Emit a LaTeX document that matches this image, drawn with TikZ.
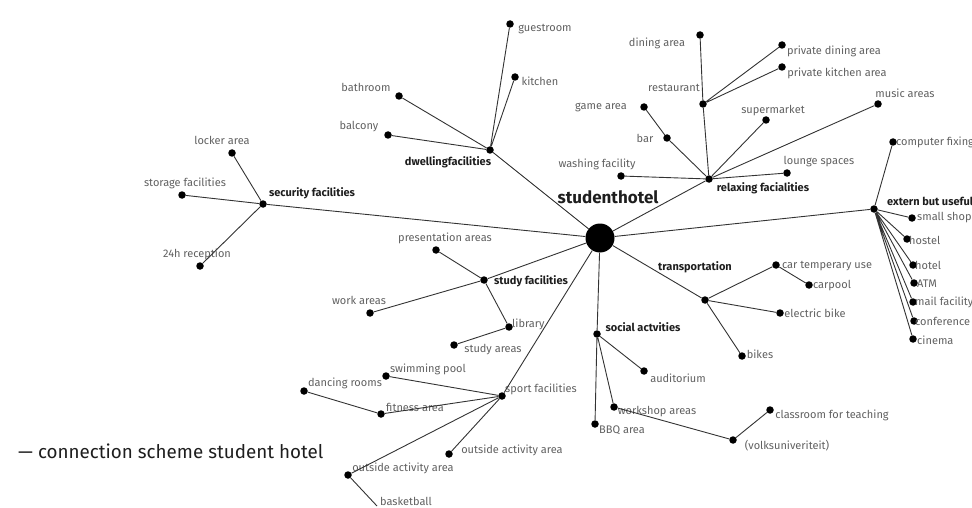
\documentclass[tikz,border=0pt]{standalone}
\usepackage{fontspec}
\setmainfont{Fira Sans}
\definecolor{linec}{HTML}{333333}
\definecolor{leafc}{HTML}{606060}
\definecolor{catc}{HTML}{1E1E1E}
\begin{document}
\begin{tikzpicture}[x=1pt,y=-1pt,
  dot/.style={circle,fill=black,inner sep=0pt,minimum size=7.5pt},
  hubdot/.style={circle,fill=black,inner sep=0pt,minimum size=29pt},
  leaf/.style={text=leafc,font=\fontsize{11}{13}\selectfont,inner sep=0pt},
  cat/.style={text=catc,font=\fontsize{11}{13}\selectfont\bfseries,inner sep=0pt},
  title/.style={text=catc,font=\fontsize{17}{20}\selectfont\bfseries,inner sep=0pt},
  link/.style={draw=linec,line width=0.9pt}]
\useasboundingbox (0,0) rectangle (972,508);

% ---------- hub ----------
\node[hubdot] (hub) at (600,238) {};
\node[title] (t-hub) at (608,197) {studenthotel};

% ---------- category nodes ----------
\node[dot] (sec)   at (263,204) {};
\node[dot] (dwell) at (490,150) {};
\node[dot] (relax) at (709,179) {};
\node[dot] (study) at (484,280) {};
\node[dot] (sport) at (502,396) {};
\node[dot] (soc)   at (597,334) {};
\node[dot] (trans) at (705,300) {};
\node[dot] (ext)   at (874,209) {};

\node[cat] (t-sec)   at (312,193) {security facilities};
\node[cat] (t-dwell) at (448,162) {dwellingfacilities};
\node[cat] (t-relax) at (763,188) {relaxing facialities};
\node[cat] (t-study) at (531,281) {study facilities};
\node[leaf] (t-sport) at (541,389) {sport facilities};
\node[cat] (t-soc)   at (643,327) {social actvities};
\node[cat] (t-trans) at (695,267) {transportation};
\node[cat,anchor=west] (t-ext) at (887,201) {extern but useful};

% ---------- security ----------
\node[dot] (locker)  at (232,153) {};
\node[dot] (storage) at (182,195) {};
\node[dot] (recep)   at (200,266) {};
\node[leaf] at (222,140) {locker area};
\node[leaf] at (185,183) {storage facilities};
\node[leaf] at (197,254) {24h reception};

% ---------- dwelling ----------
\node[dot] (guest) at (510,24) {};
\node[dot] (kitch) at (515,77) {};
\node[dot] (bath)  at (399,96) {};
\node[dot] (balc)  at (388,135) {};
\node[leaf] at (545,29) {guestroom};
\node[leaf] at (540,81) {kitchen};
\node[leaf] at (366,87) {bathroom};
\node[leaf] at (359,127) {balcony};

% ---------- relaxing ----------
\node[dot] (rest)   at (703,104) {};
\node[dot] (dining) at (700,35) {};
\node[dot] (pdin)   at (782,45) {};
\node[dot] (pkit)   at (782,67) {};
\node[dot] (bar)    at (667,138) {};
\node[dot] (game)   at (644,107) {};
\node[dot] (super)  at (766,120) {};
\node[dot] (music)  at (878,104) {};
\node[dot] (lounge) at (787,173) {};
\node[dot] (wash)   at (621,176) {};
\node[leaf] at (674,88) {restaurant};
\node[leaf] at (657,43) {dining area};
\node[leaf] at (834,51) {private dining area};
\node[leaf] at (837,73) {private kitchen area};
\node[leaf] at (645,138) {bar};
\node[leaf] at (601,107) {game area};
\node[leaf] at (773,111) {supermarket};
\node[leaf] at (905,93) {music areas};
\node[leaf] at (819,162) {lounge spaces};
\node[leaf] at (597,164) {washing facility};

% ---------- study ----------
\node[dot] (pres)  at (436,250) {};
\node[dot] (work)  at (370,313) {};
\node[dot] (lib)   at (509,327) {};
\node[dot] (sarea) at (454,345) {};
\node[leaf] at (445,238) {presentation areas};
\node[leaf] at (359,300) {work areas};
\node[leaf,anchor=west] at (512,324) {library};
\node[leaf] at (493,350) {study areas};

% ---------- sport ----------
\node[dot] (swim)  at (386,376) {};
\node[dot] (fit)   at (381,414) {};
\node[dot] (dance) at (304,391) {};
\node[dot] (out1)  at (449,454) {};
\node[dot] (out2)  at (348,475) {};
\coordinate (bask) at (377,506);
\node[leaf] at (428,369) {swimming pool};
\node[leaf] at (415,407) {fitness area};
\node[leaf] at (345,383) {dancing rooms};
\node[leaf] at (512,450) {outside activity area};
\node[leaf] at (403,468) {outside activity area};
\node[leaf] at (406,501) {basketball};

% ---------- social ----------
\node[dot] (audi)  at (644,371) {};
\node[dot] (wshop) at (614,407) {};
\node[dot] (bbq)   at (595,424) {};
\node[dot] (volks) at (733,440) {};
\node[dot] (class) at (770,410) {};
\node[leaf] at (678,378) {auditorium};
\node[leaf] at (657,412) {workshop areas};
\node[leaf] at (622,430) {BBQ area};
\node[leaf] at (787,446) {(volksuniveriteit)};
\node[leaf] at (832,415) {classroom for teaching};

% ---------- transportation ----------
\node[dot] (car)   at (776,265) {};
\node[dot] (pool)  at (809,285) {};
\node[dot] (ebike) at (780,313) {};
\node[dot] (bikes) at (742,356) {};
\node[leaf] at (827,266) {car temperary use};
\node[leaf] at (832,286) {carpool};
\node[leaf] at (815,313) {electric bike};
\node[leaf] at (760,354) {bikes};

% ---------- extern but useful ----------
\node[dot] (comp)  at (893,142) {};
\node[dot] (shop)  at (912,218) {};
\node[dot] (host)  at (907,239) {};
\node[dot] (hotel) at (913,265) {};
\node[dot] (atm)   at (914,283) {};
\node[dot] (mail)  at (913,302) {};
\node[dot] (conf)  at (914,321) {};
\node[dot] (cin)   at (913,339) {};
\node[leaf,anchor=west] at (896,142) {computer fixing};
\node[leaf,anchor=west] at (917,218) {small shop};
\node[leaf,anchor=west] at (909,240) {hostel};
\node[leaf,anchor=west] at (915,265) {hotel};
\node[leaf,anchor=west] at (917,284) {ATM};
\node[leaf,anchor=west] at (915,302) {mail facility};
\node[leaf,anchor=west] at (915,321) {conference};
\node[leaf,anchor=west] at (917,340) {cinema};

% ---------- connectors ----------
\path[link] (hub) -- (sec)  (hub) -- (dwell)  (hub) -- (relax)  (hub) -- (study)
  (hub) -- (sport)  (hub) -- (soc)  (hub) -- (trans)  (hub) -- (ext);
\path[link] (sec) -- (locker)  (sec) -- (storage)  (sec) -- (recep);
\path[link] (dwell) -- (guest)  (dwell) -- (kitch)  (dwell) -- (bath)  (dwell) -- (balc);
\path[link] (relax) -- (rest)  (rest) -- (dining)  (rest) -- (pdin)  (rest) -- (pkit)
  (relax) -- (bar)  (bar) -- (game)  (relax) -- (super)  (relax) -- (music)
  (relax) -- (lounge)  (relax) -- (wash);
\path[link] (study) -- (pres)  (study) -- (work)  (study) -- (lib)  (lib) -- (sarea);
\path[link] (sport) -- (swim)  (sport) -- (fit)  (fit) -- (dance)  (sport) -- (out1)
  (sport) -- (out2)  (out2) -- (bask);
\path[link] (soc) -- (audi)  (soc) -- (wshop)  (soc) -- (bbq)  (wshop) -- (volks)
  (volks) -- (class);
\path[link] (trans) -- (car)  (car) -- (pool)  (trans) -- (ebike)  (trans) -- (bikes);
\path[link] (ext) -- (comp)  (ext) -- (shop)  (ext) -- (host)  (ext) -- (hotel)
  (ext) -- (atm)  (ext) -- (mail)  (ext) -- (conf)  (ext) -- (cin);

% ---------- caption ----------
\node[text=catc,font=\fontsize{18.8}{22}\selectfont,anchor=west,inner sep=0pt] (caption)
  at (18,451) {— connection scheme student hotel};
\end{tikzpicture}
\end{document}
